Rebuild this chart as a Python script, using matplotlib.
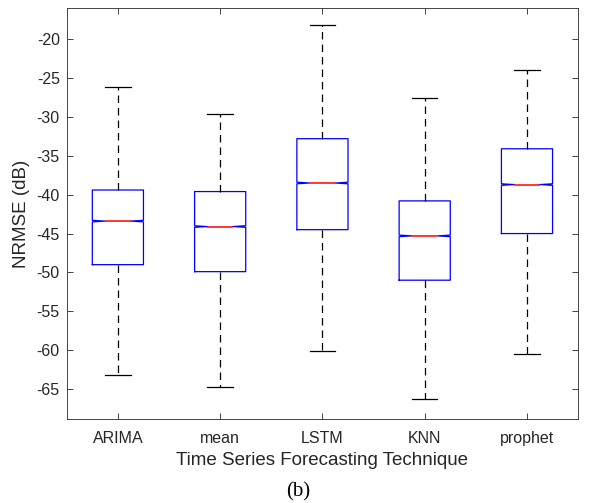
import matplotlib
matplotlib.use("Agg")
import matplotlib.pyplot as plt
import numpy as np

# values (dB)
techniques = ["ARIMA", "mean", "LSTM", "KNN", "prophet"]
whisker_hi = [-26.1, -29.6, -18.2, -27.6, -24.0]
q3 = [-39.4, -39.6, -32.8, -40.8, -34.1]
medians = [-43.4, -44.1, -38.5, -45.3, -38.7]
q1 = [-49.0, -49.9, -44.5, -51.0, -45.0]
whisker_lo = [-63.2, -64.7, -60.1, -66.3, -60.5]

plt.rcParams["font.family"] = ["Liberation Sans", "DejaVu Sans"]
plt.rcParams["axes.unicode_minus"] = False

stats = []
for name, wh, a, m, b, wl in zip(techniques, whisker_hi, q3, medians, q1, whisker_lo):
    stats.append(dict(label=name, whishi=wh, q3=a, med=m, q1=b, whislo=wl,
                      cihi=m + 0.1, cilo=m - 0.1, fliers=[]))

fig = plt.figure(figsize=(5.96, 5.03), dpi=100)
ax = fig.add_axes([0.112, 0.167, 0.858, 0.817])

ax.bxp(stats, positions=np.arange(1, len(stats) + 1), widths=0.5,
       shownotches=True, showfliers=False,
       boxprops=dict(color="blue", linewidth=0.9),
       medianprops=dict(color="red", linewidth=1.1),
       whiskerprops=dict(color="black", linewidth=0.9, linestyle=(0, (6, 4))),
       capprops=dict(color="black", linewidth=0.9))

ax.set_xlim(0.5, 5.5)
ax.set_ylim(-68.85, -16.0)
ax.set_yticks(np.arange(-65, -19, 5))
ax.tick_params(direction="in", top=True, right=True, labelsize=11.5,
               length=4, width=0.6, colors="0.15", pad=5)
ax.tick_params(axis="x", pad=9)
ax.set_xticks(np.arange(1, 6), techniques)
for s in ax.spines.values():
    s.set_linewidth(0.6)
    s.set_color("0.15")
ax.set_ylabel("NRMSE (dB)", fontsize=13.5, color="0.15", labelpad=5)
ax.set_xlabel("Time Series Forecasting Technique", fontsize=13.5, color="0.15",
              labelpad=4)

fig.text(0.5, 0.022, "(b)", ha="center", va="center", fontsize=15,
         family=["Liberation Serif", "DejaVu Serif"])

fig.savefig("out.png", dpi=100)
